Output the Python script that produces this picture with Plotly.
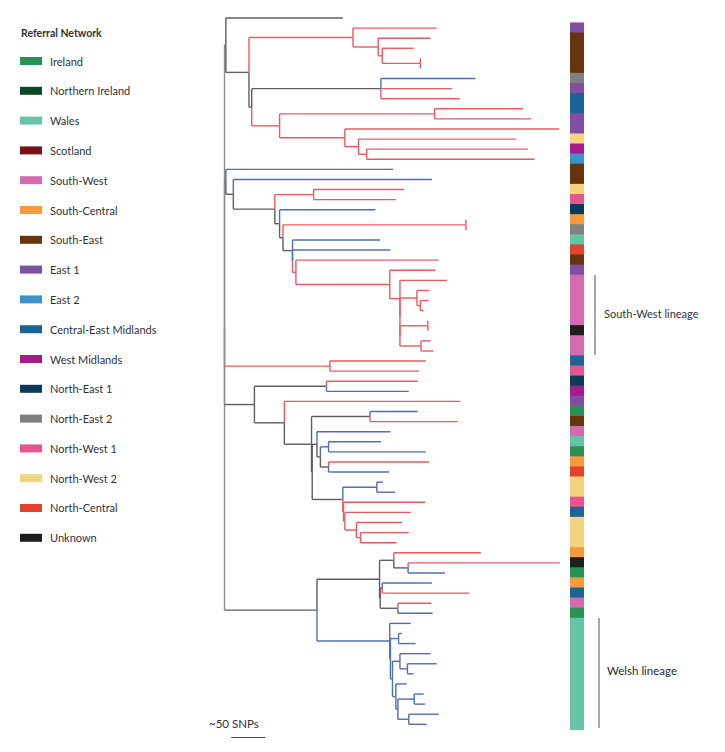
import plotly.graph_objects as go

# ---------------- DATA ----------------
# Each entry: (node, parent, divergence from root in SNPs, branch class)
# branch class: "r" red, "b" blue, "g" grey. Leaves are named sNN (top to bottom).
clade_top = [
    ("root", None, 0, "g"),
    ("T0", "root", 2, "g"),
    ("s00", "T0", 174, "g"),
    ("N1", "T0", 36, "g"),
    ("A", "N1", 189, "r"), ("s01", "A", 312, "r"), ("A1", "A", 226, "r"),
    ("s02", "A1", 303, "r"), ("A2", "A1", 232, "r"), ("s03", "A2", 278, "r"),
    ("A3", "A2", 288, "r"), ("s04", "A3", 288, "r"), ("s05", "A3", 288, "r"),
    ("N2", "N1", 40, "g"),
    ("B", "N2", 230, "g"), ("s06", "B", 369, "b"), ("s07", "B", 334, "r"), ("s08", "B", 346, "r"),
    ("C", "N2", 81, "r"), ("C1", "C", 309, "r"), ("s09", "C1", 439, "r"), ("s10", "C1", 451, "r"),
    ("C2", "C", 177, "r"), ("s11", "C2", 492, "r"), ("C3", "C2", 197, "r"), ("s12", "C3", 429, "r"),
    ("C4", "C3", 209, "r"), ("s13", "C4", 446, "r"), ("s14", "C4", 456, "r"),
]
clade_sw = [
    ("P", "root", 2, "g"), ("s15", "P", 248, "b"), ("Q", "P", 13, "g"), ("s16", "Q", 305, "b"),
    ("R", "Q", 74, "g"), ("R1", "R", 131, "r"), ("s17", "R1", 264, "r"), ("s18", "R1", 252, "r"),
    ("S", "R", 81, "g"), ("s19", "S", 222, "b"), ("T", "S", 86, "g"),
    ("T1", "T", 355, "r"), ("s20", "T1", 355, "r"), ("s21", "T1", 355, "r"),
    ("U", "T", 100, "g"), ("s22", "U", 229, "b"), ("Ua", "U", 100, "g"), ("s23", "Ua", 244, "b"),
    ("V", "Ua", 105, "r"), ("s24", "V", 315, "r"), ("W", "V", 243, "r"), ("s25", "W", 310, "r"),
    ("X", "W", 258, "r"), ("s26", "X", 327, "r"), ("Xa", "X", 258, "r"),
    ("Y", "Xa", 283, "r"), ("s27", "Y", 301, "r"), ("Y1", "Y", 288, "r"),
    ("s28", "Y1", 300, "r"), ("s29", "Y1", 293, "r"),
    ("Xb", "Xa", 258, "r"), ("X1", "Xb", 299, "r"), ("s30", "X1", 299, "r"), ("s31", "X1", 299, "r"),
    ("X2", "Xb", 289, "r"), ("s32", "X2", 303, "r"), ("s33", "X2", 307, "r"),
]
clade_mid = [
    ("M1", "root", 155, "r"), ("s34", "M1", 296, "r"), ("s35", "M1", 286, "r"),
    ("M2", "root", 44, "g"), ("M2a", "M2", 150, "g"), ("s36", "M2a", 284, "r"), ("s37", "M2a", 271, "b"),
    ("M3", "M2", 88, "g"), ("s38", "M3", 347, "r"), ("M4", "M3", 128, "g"),
    ("M4a", "M4", 214, "g"), ("s39", "M4a", 284, "b"), ("s40", "M4a", 343, "r"),
    ("M4b", "M4", 129, "g"), ("M5", "M4b", 136, "g"), ("s41", "M5", 244, "b"),
    ("M6", "M5", 141, "g"), ("M6a", "M6", 153, "b"), ("s42", "M6a", 230, "b"), ("s43", "M6a", 296, "b"),
    ("M6b", "M6", 153, "g"), ("s44", "M6b", 301, "r"), ("s45", "M6b", 242, "b"),
    ("LC", "M4b", 174, "g"), ("LC1", "LC", 224, "b"), ("s46", "LC1", 233, "b"), ("s47", "LC1", 251, "b"),
    ("LD", "LC", 175, "r"), ("s48", "LD", 295, "r"), ("LE", "LD", 177, "r"), ("s49", "LE", 274, "r"),
    ("LF", "LE", 194, "r"), ("s50", "LF", 261, "r"), ("LG", "LF", 200, "r"),
    ("s51", "LG", 271, "r"), ("s52", "LG", 253, "r"),
]
clade_low = [
    ("K1", "root", 136, "g"), ("K2", "K1", 228, "g"), ("K2a", "K2", 249, "g"), ("s53", "K2a", 377, "r"),
    ("K2c", "K2a", 270, "g"), ("s54", "K2c", 493, "r"), ("s55", "K2c", 324, "b"),
    ("K2b", "K2", 229, "g"), ("K2d", "K2b", 232, "g"), ("s56", "K2d", 305, "b"), ("s57", "K2d", 360, "r"),
    ("K2e", "K2b", 255, "g"), ("s58", "K2e", 304, "r"), ("s59", "K2e", 306, "b"),
]
clade_welsh = [
    ("WL", "K1", 243, "b"), ("s60", "WL", 274, "b"), ("WL1", "WL", 244, "b"),
    ("WL1a", "WL1", 256, "b"), ("s61", "WL1a", 261, "b"), ("s62", "WL1a", 281, "b"),
    ("WL2", "WL1", 247, "b"), ("WL3", "WL2", 258, "b"), ("s63", "WL3", 303, "b"),
    ("WL3a", "WL3", 269, "b"), ("s64", "WL3a", 312, "b"), ("s65", "WL3a", 278, "b"),
    ("WL4", "WL2", 252, "b"), ("s66", "WL4", 268, "b"), ("WL5", "WL4", 255, "b"),
    ("WL5a", "WL5", 279, "b"), ("s67", "WL5a", 293, "b"), ("s68", "WL5a", 295, "b"),
    ("WL5b", "WL5", 271, "b"), ("s69", "WL5b", 315, "b"), ("s70", "WL5b", 297, "b"),
]

# Referral network of leaves s01..s70 (s00 is the root sequence, no bar)
leaf_network = [
    "East 1", "South-East", "South-East", "South-East", "South-East",
    "North-East 2", "East 1", "Central-East Midlands", "Central-East Midlands", "East 1",
    "East 1", "North-West 2", "West Midlands", "East 2", "South-East",
    "South-East", "North-West 2", "North-West 1", "North-East 1", "South-Central",
    "North-East 2", "Wales", "North-Central", "South-East", "East 1",
    "South-West", "South-West", "South-West", "South-West", "South-West",
    "Unknown", "South-West", "South-West", "Central-East Midlands", "North-West 1",
    "North-East 1", "West Midlands", "East 1", "Ireland", "South-East",
    "South-West", "Wales", "Ireland", "South-Central", "North-Central",
    "North-West 2", "North-West 2", "North-West 1", "Central-East Midlands", "North-West 2",
    "North-West 2", "North-West 2", "South-Central", "Unknown", "Ireland",
    "South-Central", "Central-East Midlands", "South-West", "Ireland", "Wales",
    "Wales", "Wales", "Wales", "Wales", "Wales",
    "Wales", "Wales", "Wales", "Wales", "Wales",
]

network_names = ["Ireland", "Northern Ireland", "Wales", "Scotland", "South-West",
                 "South-Central", "South-East", "East 1", "East 2", "Central-East Midlands",
                 "West Midlands", "North-East 1", "North-East 2", "North-West 1",
                 "North-West 2", "North-Central", "Unknown"]
network_colors = ["#2a9155", "#0e4727", "#66c4a6", "#7a1219", "#d36bae",
                  "#f79a3e", "#67340f", "#7f4fa2", "#3c93c8", "#1b6596",
                  "#a41c8c", "#0b3a5b", "#808080", "#e8558e",
                  "#f1d47c", "#e1432f", "#1e1e1e"]
branch_colors = {"r": "#e85a62", "b": "#4d70b2", "g": "#5e5e5e", "root": "#8e8e8e"}

scale_bar_snps = 50

# ---------------- LAYOUT / BUILD ----------------
PAGE_W, PAGE_H = 725, 752
OFF = 8  # browser body margin
W, H = PAGE_W - OFF, PAGE_H - OFF

nodes = clade_top + clade_sw + clade_mid + clade_low + clade_welsh
depth = {n: d for n, p, d, c in nodes}
children = {n: [] for n, p, d, c in nodes}
for n, p, d, c in nodes:
    if p is not None:
        children[p].append(n)

leaves = [n for n, p, d, c in nodes if not children[n]]
ypos = {leaf: i for i, leaf in enumerate(leaves)}


def set_y(n):
    if n in ypos:
        return ypos[n]
    ys = [set_y(c) for c in children[n]]
    ypos[n] = (ys[0] + ys[-1]) / 2
    return ypos[n]


set_y("root")

segs = {k: ([], []) for k in branch_colors}
for n, p, d, c in nodes:
    if p is None:
        continue
    vkey = "root" if p == "root" else c
    xs, ys = segs[vkey]
    xs += [depth[p], depth[p], None]
    ys += [ypos[p], ypos[n], None]
    xs, ys = segs[c]
    xs += [depth[p], depth[n], None]
    ys += [ypos[n], ypos[n], None]

fig = go.Figure()
for c in ["root", "g", "b", "r"]:
    xs, ys = segs[c]
    fig.add_trace(go.Scatter(x=xs, y=ys, mode="lines", hoverinfo="skip",
                             line=dict(color=branch_colors[c], width=1.4), showlegend=False))

# page-pixel layout helpers (target pixel positions on the page)
root_px, px_per_snp = 224.5, 0.68
leaf0_px, px_per_leaf = 18.0, 10.09
xrange_ = [-(root_px - OFF) / px_per_snp, (PAGE_W - root_px) / px_per_snp]
yrange_ = [(PAGE_H - leaf0_px) / px_per_leaf, -(leaf0_px - OFF) / px_per_leaf]


def px(x):
    return (x - OFF) / W


def py(y):
    return 1 - (y - OFF) / H


shapes = []
annotations = []
col_of = dict(zip(network_names, network_colors))

# colour strip
for i, net in enumerate(leaf_network, start=1):
    yv = ypos["s%02d" % i]
    shapes.append(dict(type="rect", xref="paper", yref="y", x0=px(570), x1=px(584),
                       y0=yv - 0.56, y1=yv + 0.56, fillcolor=col_of[net], line=dict(width=0),
                       layer="above"))

# lineage brackets
shapes.append(dict(type="line", xref="paper", yref="paper", x0=px(595), x1=px(595),
                   y0=py(275), y1=py(355), line=dict(color="#8a8a8a", width=1.5)))
shapes.append(dict(type="line", xref="paper", yref="paper", x0=px(599), x1=px(599),
                   y0=py(618), y1=py(728), line=dict(color="#8a8a8a", width=1.5)))
annotations.append(dict(text="South-West lineage", xref="paper", yref="paper", x=px(602), y=py(313),
                        xanchor="left", yanchor="middle", showarrow=False,
                        font=dict(size=11, color="#333333")))
annotations.append(dict(text="Welsh lineage", xref="paper", yref="paper", x=px(605), y=py(670),
                        xanchor="left", yanchor="middle", showarrow=False,
                        font=dict(size=11.5, color="#2a2a2a")))

# scale bar
shapes.append(dict(type="line", xref="x", yref="paper", x0=10, x1=10 + scale_bar_snps,
                   y0=py(737.5), y1=py(737.5), line=dict(color="#444444", width=1.2)))
annotations.append(dict(text="~%d SNPs" % scale_bar_snps, xref="paper", yref="paper",
                        x=px(261), y=py(723), xanchor="right", yanchor="middle",
                        showarrow=False, font=dict(size=11.5, color="#333333")))

# legend
annotations.append(dict(text="<b>Referral Network</b>", xref="paper", yref="paper", x=px(19), y=py(33),
                        xanchor="left", yanchor="middle", showarrow=False,
                        font=dict(size=10.5, color="#333333")))
for k, (name, colr) in enumerate(zip(network_names, network_colors)):
    yc = 61 + 29.8 * k
    shapes.append(dict(type="rect", xref="paper", yref="paper", x0=px(20), x1=px(42),
                       y0=py(yc - 4), y1=py(yc + 4), fillcolor=colr, line=dict(width=0)))
    annotations.append(dict(text=name, xref="paper", yref="paper", x=px(48), y=py(yc),
                            xanchor="left", yanchor="middle", showarrow=False,
                            font=dict(size=11, color="#333333")))

fig.update_layout(
    width=W, height=H, margin=dict(l=0, r=0, t=0, b=0),
    paper_bgcolor="white", plot_bgcolor="white",
    font=dict(family="Lato, 'Open Sans', sans-serif"),
    xaxis=dict(range=xrange_, visible=False, fixedrange=True),
    yaxis=dict(range=yrange_, visible=False, fixedrange=True),
    shapes=shapes, annotations=annotations, showlegend=False,
)
fig.write_html("out.html")
